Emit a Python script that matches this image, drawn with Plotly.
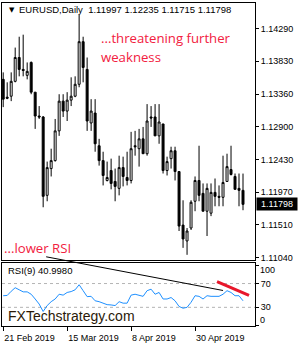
import plotly.graph_objects as go

# ---------------- data ----------------
bar_index = list(range(61))
open_ = [1.13572, 1.13319, 1.13333, 1.13544, 1.13882, 1.13713, 1.13629, 1.13812, 1.13390, 1.13052,
         1.13038, 1.11926, 1.12306, 1.12419, 1.12841, 1.13263, 1.13122, 1.13277, 1.13333, 1.13502,
         1.14107, 1.13713, 1.12953, 1.13094, 1.12630, 1.12419, 1.12137, 1.12278, 1.12123, 1.12025,
         1.12320, 1.12179, 1.12137, 1.12630, 1.12588, 1.12728, 1.12517, 1.13038, 1.13038, 1.12770,
         1.12939, 1.12278, 1.12447, 1.12559, 1.12264, 1.11504, 1.11279, 1.11462, 1.11842, 1.12137,
         1.11954, 1.11701, 1.11673, 1.11968, 1.11912, 1.11898, 1.12123, 1.12292, 1.12194, 1.12025,
         1.11997]
high = [1.13671, 1.13530, 1.13671, 1.14023, 1.14177, 1.14206, 1.13812, 1.13826, 1.13390, 1.13193,
        1.13052, 1.12405, 1.12588, 1.13010, 1.13361, 1.13361, 1.13390, 1.13601, 1.13615, 1.14487,
        1.14177, 1.13882, 1.13291, 1.13291, 1.12728, 1.12545, 1.12405, 1.12447, 1.12306, 1.12489,
        1.12475, 1.12545, 1.12827, 1.12841, 1.12869, 1.12897, 1.13221, 1.13193, 1.13221, 1.13221,
        1.12939, 1.12475, 1.12616, 1.12616, 1.12264, 1.11856, 1.11462, 1.11856, 1.12194, 1.12630,
        1.12095, 1.12095, 1.12095, 1.12165, 1.12067, 1.12489, 1.12517, 1.12630, 1.12236, 1.12236,
        1.12235]
low = [1.13178, 1.13291, 1.13263, 1.13530, 1.13615, 1.13615, 1.13572, 1.13361, 1.12869, 1.13010,
       1.11757, 1.11842, 1.12194, 1.12405, 1.12770, 1.13038, 1.12981, 1.13193, 1.13319, 1.13460,
       1.13530, 1.12841, 1.12841, 1.12545, 1.12348, 1.12067, 1.12123, 1.12011, 1.11842, 1.11926,
       1.12053, 1.12067, 1.12095, 1.12489, 1.12334, 1.12517, 1.12489, 1.12897, 1.12770, 1.12658,
       1.12236, 1.12208, 1.12306, 1.12137, 1.11420, 1.11181, 1.11082, 1.11434, 1.11701, 1.11842,
       1.11701, 1.11349, 1.11631, 1.11771, 1.11771, 1.11771, 1.12123, 1.12208, 1.12011, 1.11771,
       1.11715]
close = [1.13291, 1.13305, 1.13544, 1.13882, 1.13713, 1.13699, 1.13685, 1.13390, 1.13052, 1.13038,
         1.11912, 1.12320, 1.12419, 1.12841, 1.13263, 1.13122, 1.13277, 1.13333, 1.13502, 1.14107,
         1.13741, 1.12981, 1.13122, 1.12658, 1.12419, 1.12208, 1.12179, 1.12095, 1.12053, 1.12320,
         1.12194, 1.12137, 1.12588, 1.12616, 1.12728, 1.12517, 1.12981, 1.13024, 1.12770, 1.12967,
         1.12278, 1.12405, 1.12559, 1.12264, 1.11490, 1.11307, 1.11420, 1.11828, 1.12137, 1.11926,
         1.11701, 1.12025, 1.11968, 1.11912, 1.11898, 1.12109, 1.12334, 1.12222, 1.12011, 1.11997,
         1.11798]
rsi = [49.5, 50, 57, 63, 59.5, 56, 56, 52, 44, 35.5,
       23, 33, 39.5, 44, 52, 50.5, 55, 56.5, 59.5, 68,
       58, 48, 48.5, 41, 39.5, 37, 34.5, 34, 33, 39.5,
       37, 37, 50.5, 52, 50.5, 48.5, 58, 60.5, 52, 55,
       44, 44, 46.5, 41, 31.5, 28.5, 30, 38.5, 49.5, 48.5,
       44, 49.5, 48.5, 48.5, 48.5, 52, 58, 55, 49.5, 49.5,
       40.998]
price_ticks = [1.14290, 1.13830, 1.13360, 1.12900, 1.12430, 1.11970, 1.11510, 1.11040]
rsi_ticks = [100, 70, 30, 0]
rsi_levels = [70, 30]
date_tick_pos = [0, 16, 32, 48]
date_tick_text = ["21 Feb 2019", "15 Mar 2019", "8 Apr 2019", "30 Apr 2019"]
symbol = "EURUSD,Daily"
rsi_period = 9
# trendlines (bar index, RSI value)
rsi_trend_black = [(10.75, 115.0), (55.0, 58.3)]
rsi_trend_red = [(53.5, 73.3), (61.5, 50.0)]
note_top = ["...threatening further", "weakness"]
note_bottom = "...lower RSI"
brand = "FXTechstrategy.com"

# ---------------- layout constants ----------------
W, H = 300, 350
X_DOM = [2 / W, 255 / W]
MAIN_DOM = [1 - 262 / H, 1 - 3 / H]
RSI_DOM = [1 - 329 / H, 1 - 265 / H]
X_RANGE = [-0.3, 63]
PRICE_RANGE = [1.11012, 1.14656]
RSI_RANGE = [-1.7, 105]
RED = "#F2203E"
FONT = "Liberation Sans, Arial"
TICKFONT = dict(family=FONT, size=9, color="black")


def rsi_to_paper(v):
    f = (v - RSI_RANGE[0]) / (RSI_RANGE[1] - RSI_RANGE[0])
    return RSI_DOM[0] + f * (RSI_DOM[1] - RSI_DOM[0])


def py(pix):
    return 1 - pix / H


fig = go.Figure()
fig.add_trace(go.Candlestick(
    x=bar_index, open=open_, high=high, low=low, close=close,
    increasing=dict(line=dict(color="black", width=1), fillcolor="white"),
    decreasing=dict(line=dict(color="black", width=1), fillcolor="black"),
    whiskerwidth=0, xaxis="x", yaxis="y", showlegend=False, hoverinfo="skip",
))
fig.add_trace(go.Scatter(
    x=bar_index, y=rsi, mode="lines", line=dict(color="#1E90FF", width=1),
    xaxis="x2", yaxis="y2", showlegend=False, hoverinfo="skip",
))

axis_common = dict(showline=True, linecolor="black", linewidth=1, mirror=True,
                   showgrid=False, zeroline=False)
# inner RSI labels come from the axis; the extreme ones (100, 0) are placed
# as annotations nudged inwards, as the platform does, to keep clear of neighbours
rsi_axis_labels = [str(v) if v in rsi_levels else "" for v in rsi_ticks]
fig.update_layout(
    width=W, height=H, margin=dict(l=0, r=0, t=0, b=0),
    paper_bgcolor="white", plot_bgcolor="white",
    xaxis=dict(domain=X_DOM, range=X_RANGE, anchor="y", showticklabels=False, ticks="",
               rangeslider=dict(visible=False), **axis_common),
    yaxis=dict(domain=MAIN_DOM, range=PRICE_RANGE, anchor="x", side="right",
               tickvals=price_ticks, ticktext=[f"{v:.5f}" for v in price_ticks],
               ticks="outside", ticklen=3, tickcolor="black", tickfont=TICKFONT,
               **axis_common),
    xaxis2=dict(domain=X_DOM, range=X_RANGE, anchor="y2",
                tickvals=date_tick_pos, ticktext=date_tick_text,
                ticks="outside", ticklen=4, tickcolor="black", tickfont=TICKFONT,
                ticklabelposition="outside right", ticklabelstandoff=3, **axis_common),
    yaxis2=dict(domain=RSI_DOM, range=RSI_RANGE, anchor="x2", side="right",
                tickvals=rsi_ticks, ticktext=rsi_axis_labels,
                ticks="outside", ticklen=3, tickcolor="black", tickfont=TICKFONT,
                **axis_common),
)

shapes = []
for lv in rsi_levels:
    shapes.append(dict(type="line", xref="x2 domain", yref="y2", x0=0, x1=1, y0=lv, y1=lv,
                       line=dict(color="#B4B4B4", width=1, dash="3px,3px"), layer="below"))
(bx0, bv0), (bx1, bv1) = rsi_trend_black
shapes.append(dict(type="line", xref="x2", yref="paper", x0=bx0, x1=bx1,
                   y0=rsi_to_paper(bv0), y1=rsi_to_paper(bv1),
                   line=dict(color="black", width=1)))
(rx0, rv0), (rx1, rv1) = rsi_trend_red
shapes.append(dict(type="line", xref="x2", yref="y2", x0=rx0, x1=rx1, y0=rv0, y1=rv1,
                   line=dict(color="#E8172B", width=3)))
fig.update_layout(shapes=shapes)

ann = []
ann.append(dict(xref="paper", yref="paper", x=7 / W, y=py(10), xanchor="left", yanchor="middle",
                text="▼", showarrow=False, font=dict(family="DejaVu Sans", size=7, color="black")))
ann.append(dict(xref="paper", yref="paper", x=17 / W, y=py(10), xanchor="left", yanchor="middle",
                text=f"{symbol}  {open_[-1]:.5f} {high[-1]:.5f} {low[-1]:.5f} {close[-1]:.5f}",
                showarrow=False, font=dict(family=FONT, size=9.5, color="black")))
for txt, ypix in zip(note_top, [38, 57]):
    ann.append(dict(xref="paper", yref="paper", x=99 / W, y=py(ypix), xanchor="left",
                    yanchor="middle", text=txt, showarrow=False,
                    font=dict(family="Open Sans", size=13.2, color=RED)))
ann.append(dict(xref="paper", yref="paper", x=2 / W, y=py(250), xanchor="left", yanchor="middle",
                text=note_bottom, showarrow=False,
                font=dict(family="Open Sans", size=13.2, color=RED)))
ann.append(dict(xref="paper", yref="paper", x=6 / W, y=py(273), xanchor="left", yanchor="middle",
                text=f"RSI({rsi_period}) {rsi[-1]:.4f}", showarrow=False,
                font=dict(family=FONT, size=9.5, color="black")))
ann.append(dict(xref="paper", yref="paper", x=6 / W, y=py(319), xanchor="left", yanchor="middle",
                text=brand, showarrow=False,
                font=dict(family=FONT, size=14, color="#2A1A08")))
for v, shift in [(100, -4), (0, 5)]:
    ann.append(dict(xref="paper", yref="y2", x=258 / W, y=v, yshift=shift, xanchor="left",
                    yanchor="middle", text=str(v), showarrow=False, font=TICKFONT))
ann.append(dict(xref="paper", yref="y", x=256 / W, y=close[-1], xanchor="left", yanchor="middle",
                text=f"{close[-1]:.5f}", showarrow=False, bgcolor="black", borderpad=1,
                width=38, font=dict(family=FONT, size=9, color="white")))
fig.update_layout(annotations=ann)

fig.write_html("out.html")
